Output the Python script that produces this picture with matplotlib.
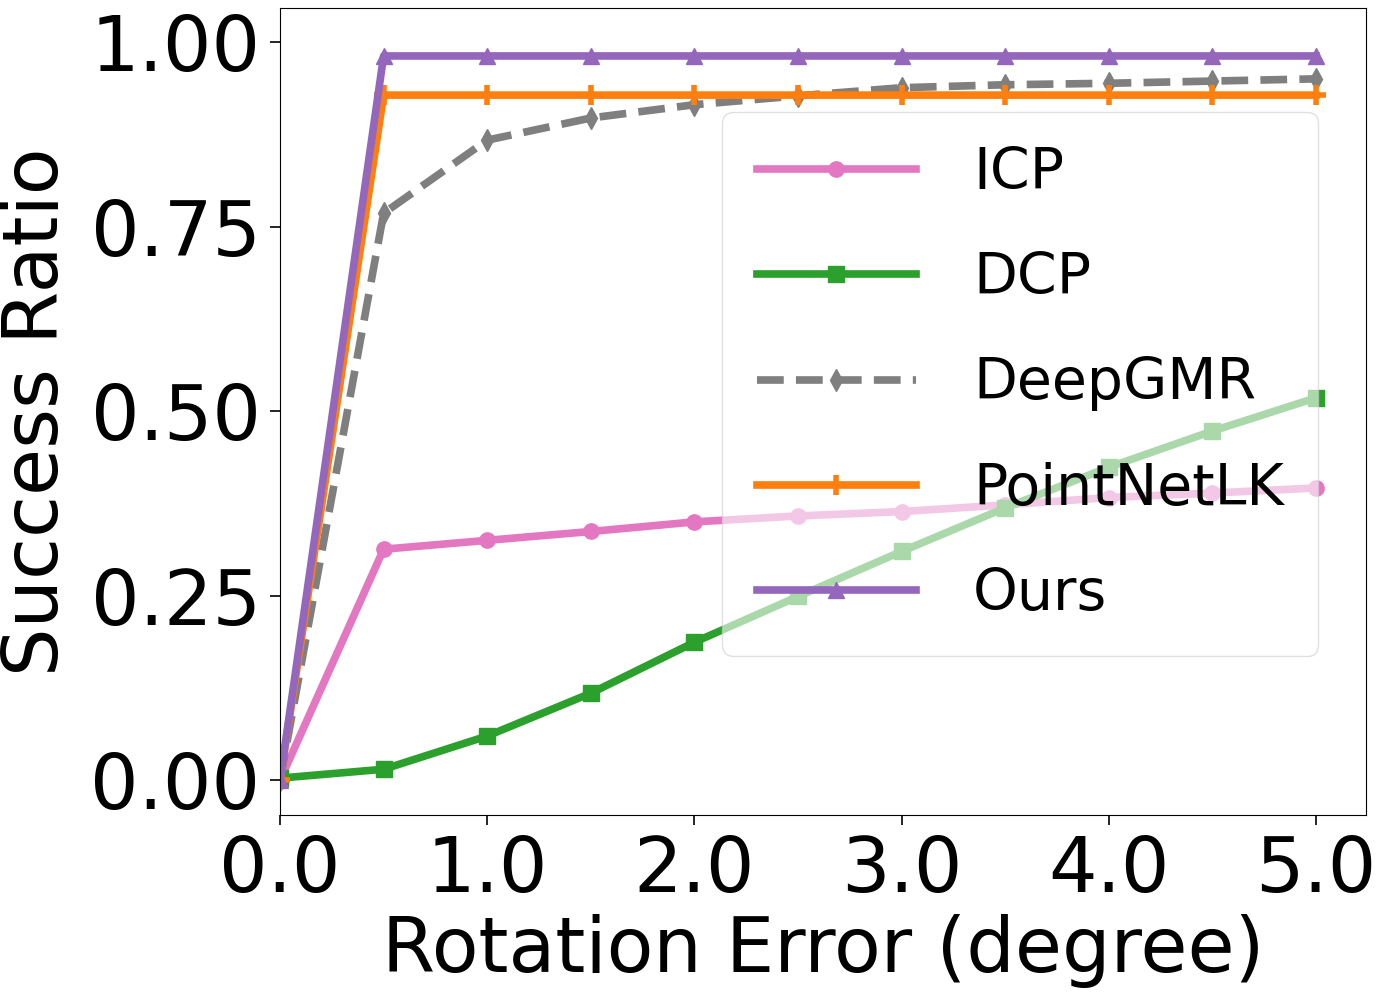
import numpy as np
import matplotlib
matplotlib.use('Agg')
import matplotlib.pyplot as plt

x = [0.0, 0.5, 1.0, 1.5, 2.0, 2.5, 3.0, 3.5, 4.0, 4.5, 5.0]
icp = [0.0, 0.313, 0.325, 0.337, 0.350, 0.358, 0.364, 0.373, 0.383, 0.389, 0.396]
dcp = [0.003, 0.015, 0.060, 0.118, 0.187, 0.249, 0.310, 0.369, 0.424, 0.473, 0.518]
deepgmr = [0.0, 0.768, 0.867, 0.897, 0.915, 0.927, 0.938, 0.942, 0.944, 0.947, 0.950]
pointnetlk = [0.0, 0.928, 0.928, 0.928, 0.928, 0.928, 0.928, 0.928, 0.928, 0.928, 0.928]
ours = [0.0, 0.981, 0.981, 0.981, 0.981, 0.981, 0.981, 0.981, 0.981, 0.981, 0.981]

xticks = [0, 1, 2, 3, 4, 5]
xticklabels = ['0.0', '1.0', '2.0', '3.0', '4.0', '5.0']
yticks = [0.0, 0.25, 0.5, 0.75, 1.0]
yticklabels = ['0.00', '0.25', '0.50', '0.75', '1.00']

fig = plt.figure(figsize=(13.98, 9.96), dpi=100)
ax = fig.add_axes([0.2003, 0.1817, 0.7766, 0.8103])

lw = 5.5
ms = 11
ax.plot(x, icp, color='#e377c2', marker='o', lw=lw, ms=ms, label='ICP')
ax.plot(x, dcp, color='#2ca02c', marker='s', lw=lw, ms=ms, label='DCP')
ax.plot(x, deepgmr, color='#7f7f7f', marker='d', ls='--', lw=lw, ms=ms,
        dashes=(3.5, 1.6), label='DeepGMR')
ax.plot(x, pointnetlk, color='#ff7f0e', marker='+', lw=lw, ms=14, mew=4,
        label='PointNetLK')
ax.plot(x, ours, color='#9467bd', marker='^', lw=lw, ms=ms, label='Ours')

ax.set_xlim(0, 5.24)
ax.set_ylim(-0.047, 1.046)
ax.set_xticks(xticks)
ax.set_xticklabels(xticklabels)
ax.set_yticks(yticks)
ax.set_yticklabels(yticklabels)
ax.tick_params(labelsize=55, length=7, width=1.2, pad=7)
ax.set_xlabel('Rotation Error (degree)', fontsize=55, labelpad=4)
ax.set_ylabel('Success Ratio', fontsize=55, labelpad=12)

ax.legend(loc='upper right', bbox_to_anchor=(0.956, 0.871), borderaxespad=0,
          fontsize=41, handlelength=2.8, labelspacing=0.88, handletextpad=1.0,
          borderpad=0.6, framealpha=0.6)

fig.savefig('out.png', dpi=100)
